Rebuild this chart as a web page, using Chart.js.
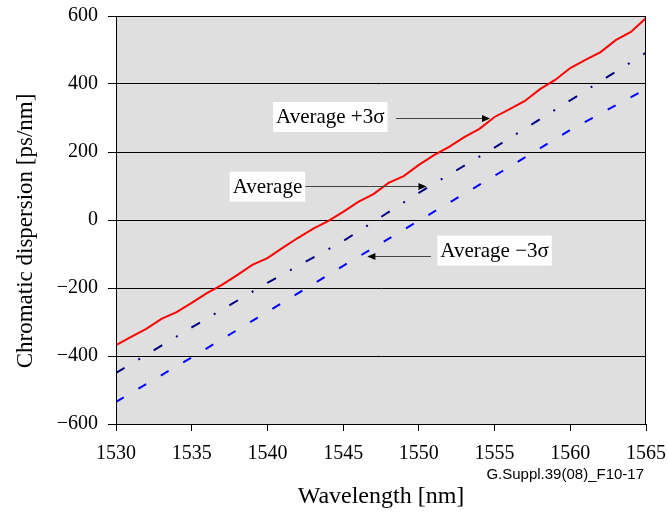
<!DOCTYPE html>
<html>
<head>
<meta charset="utf-8">
<script src="https://cdn.jsdelivr.net/npm/chart.js@4/dist/chart.umd.min.js"></script>
<style>
  html, body { margin: 0; padding: 0; background: #fff; }
  #wrap { width: 668px; height: 515px; }
</style>
</head>
<body>
<div id="wrap"><canvas id="myChart" width="668" height="515"></canvas></div>
<script>
// wavelength grid for the +3 sigma curve (nm)
var wavelengths = [1530, 1531, 1532, 1533, 1534, 1535, 1536, 1537, 1538, 1539,
                   1540, 1541, 1542, 1543, 1544, 1545, 1546, 1547, 1548, 1549,
                   1550, 1551, 1552, 1553, 1554, 1555, 1556, 1557, 1558, 1559,
                   1560, 1561, 1562, 1563, 1564, 1565];
var plus3Sigma = [-368, -344, -320, -291, -271, -244, -215, -191, -162, -132,
                  -112, -82, -53, -26, -3, 24, 53, 76, 109, 129,
                  162, 191, 215, 244, 268, 303, 326, 350, 385, 412,
                  447, 471, 494, 529, 553, 594];

// average and -3 sigma are straight lines, read every 5 nm
var coarseWavelengths = [1530, 1535, 1540, 1545, 1550, 1555, 1560, 1565];
var average = [-450, -316, -185, -62, 80, 213, 352, 492];
var minus3Sigma = [-535, -404, -270, -135, -2, 130, 265, 385];

var yTicks = [-600, -400, -200, 0, 200, 400, 600];
var xTicks = [1530, 1535, 1540, 1545, 1550, 1555, 1560, 1565];

// text labels with arrows (data coordinates)
var labels = [
    { text: 'Average +3\u03c3', x: 1544.15, y: 303, arrowFrom: 1548.5, arrowTo: 1554.7, arrowY: 300 },
    { text: 'Average', x: 1540.0, y: 98, arrowFrom: 1542.5, arrowTo: 1550.5, arrowY: 100 },
    { text: 'Average \u22123\u03c3', x: 1555.0, y: -90, arrowFrom: 1550.8, arrowTo: 1546.6, arrowY: -106 }
];

var xTitle = 'Wavelength [nm]';
var yTitle = 'Chromatic dispersion [ps/nm]';
var figureId = 'G.Suppl.39(08)_F10-17';

function toPoints(xs, ys) {
    var pts = [];
    for (var i = 0; i < xs.length; i++) {
        pts.push({ x: xs[i], y: ys[i] });
    }
    return pts;
}

var serif = "'Liberation Serif', 'Times New Roman', serif";

var decorPlugin = {
    id: 'decor',
    beforeDraw: function (chart) {
        var a = chart.chartArea;
        var ctx = chart.ctx;
        ctx.save();
        ctx.fillStyle = '#dfdfdf';
        ctx.fillRect(a.left, a.top, a.right - a.left, a.bottom - a.top);
        ctx.restore();
    },
    afterDatasetsDraw: function (chart) {
        var a = chart.chartArea;
        var ctx = chart.ctx;
        var xs = chart.scales.x;
        var ys = chart.scales.y;
        ctx.save();
        ctx.strokeStyle = '#000';
        ctx.lineWidth = 1;
        ctx.strokeRect(a.left + 0.5, a.top + 0.5, a.right - a.left - 1, a.bottom - a.top);

        ctx.font = '21px ' + serif;
        ctx.textBaseline = 'middle';
        ctx.textAlign = 'center';
        labels.forEach(function (l) {
            // arrow
            var x1 = xs.getPixelForValue(l.arrowFrom);
            var x2 = xs.getPixelForValue(l.arrowTo);
            var ay = Math.round(ys.getPixelForValue(l.arrowY)) + 0.5;
            var dir = x2 > x1 ? 1 : -1;
            ctx.strokeStyle = '#444';
            ctx.lineWidth = 1;
            ctx.beginPath();
            ctx.moveTo(x1, ay);
            ctx.lineTo(x2 - dir * 7, ay);
            ctx.stroke();
            ctx.fillStyle = '#000';
            ctx.beginPath();
            ctx.moveTo(x2, ay);
            ctx.lineTo(x2 - dir * 8, ay - 3.5);
            ctx.lineTo(x2 - dir * 8, ay + 3.5);
            ctx.closePath();
            ctx.fill();

            // white box with text
            var cx = xs.getPixelForValue(l.x);
            var cy = ys.getPixelForValue(l.y);
            var w = ctx.measureText(l.text).width + 6;
            ctx.fillStyle = '#fff';
            ctx.fillRect(cx - w / 2, cy - 15, w, 30);
            ctx.fillStyle = '#000';
            ctx.fillText(l.text, cx, cy + 1);
        });
        ctx.restore();
    },
    afterDraw: function (chart) {
        var a = chart.chartArea;
        var ctx = chart.ctx;
        ctx.save();
        ctx.fillStyle = '#000';
        ctx.textBaseline = 'middle';

        ctx.font = "15px 'Liberation Sans', Arial, sans-serif";
        ctx.textAlign = 'right';
        ctx.fillText(figureId, a.right - 2, 475);

        ctx.font = '24px ' + serif;
        ctx.textAlign = 'center';
        ctx.fillText(xTitle, (a.left + a.right) / 2, 497);

        ctx.translate(26, 231);
        ctx.rotate(-Math.PI / 2);
        ctx.font = '23px ' + serif;
        ctx.fillText(yTitle, 0, 0);
        ctx.restore();
    }
};

var ctx = document.getElementById('myChart').getContext('2d');
var myChart = new Chart(ctx, {
    type: 'line',
    data: {
        datasets: [
            {
                label: 'Average +3\u03c3',
                data: toPoints(wavelengths, plus3Sigma),
                borderColor: '#ff0000',
                borderWidth: 2,
                pointRadius: 0,
                fill: false
            },
            {
                label: 'Average',
                data: toPoints(coarseWavelengths, average),
                borderColor: '#000080',
                borderWidth: 2,
                borderDash: [10, 16, 2, 16],
                pointRadius: 0,
                fill: false
            },
            {
                label: 'Average \u22123\u03c3',
                data: toPoints(coarseWavelengths, minus3Sigma),
                borderColor: '#0000ff',
                borderWidth: 2,
                borderDash: [9, 17],
                pointRadius: 0,
                fill: false
            }
        ]
    },
    options: {
        responsive: false,
        animation: false,
        layout: { padding: { top: 16, right: 22, left: 0, bottom: 0 } },
        plugins: {
            legend: { display: false },
            tooltip: { enabled: false }
        },
        scales: {
            x: {
                type: 'linear',
                min: 1530,
                max: 1565,
                afterBuildTicks: function (scale) {
                    scale.ticks = xTicks.map(function (v) { return { value: v }; });
                },
                afterFit: function (scale) {
                    scale.height = 91;
                    scale.paddingLeft = 0;
                    scale.paddingRight = 0;
                },
                grid: {
                    drawOnChartArea: false,
                    drawTicks: true,
                    tickLength: 7,
                    color: '#000'
                },
                border: { display: true, color: '#000', width: 1 },
                ticks: {
                    color: '#000',
                    font: { family: serif, size: 20 },
                    padding: 11,
                    maxRotation: 0,
                    callback: function (v) { return String(v); }
                }
            },
            y: {
                type: 'linear',
                min: -600,
                max: 600,
                afterBuildTicks: function (scale) {
                    scale.ticks = yTicks.map(function (v) { return { value: v }; });
                },
                afterFit: function (scale) {
                    scale.width = 116;
                    scale.paddingTop = 0;
                    scale.paddingBottom = 0;
                },
                grid: {
                    color: '#000',
                    lineWidth: 1,
                    drawTicks: true,
                    tickLength: 8,
                    tickColor: '#000'
                },
                border: { display: true, color: '#000', width: 1 },
                ticks: {
                    color: '#000',
                    font: { family: serif, size: 20 },
                    padding: 10,
                    callback: function (v) { return v < 0 ? '\u2212' + Math.abs(v) : String(v); }
                }
            }
        }
    },
    plugins: [decorPlugin]
});
</script>
</body>
</html>
